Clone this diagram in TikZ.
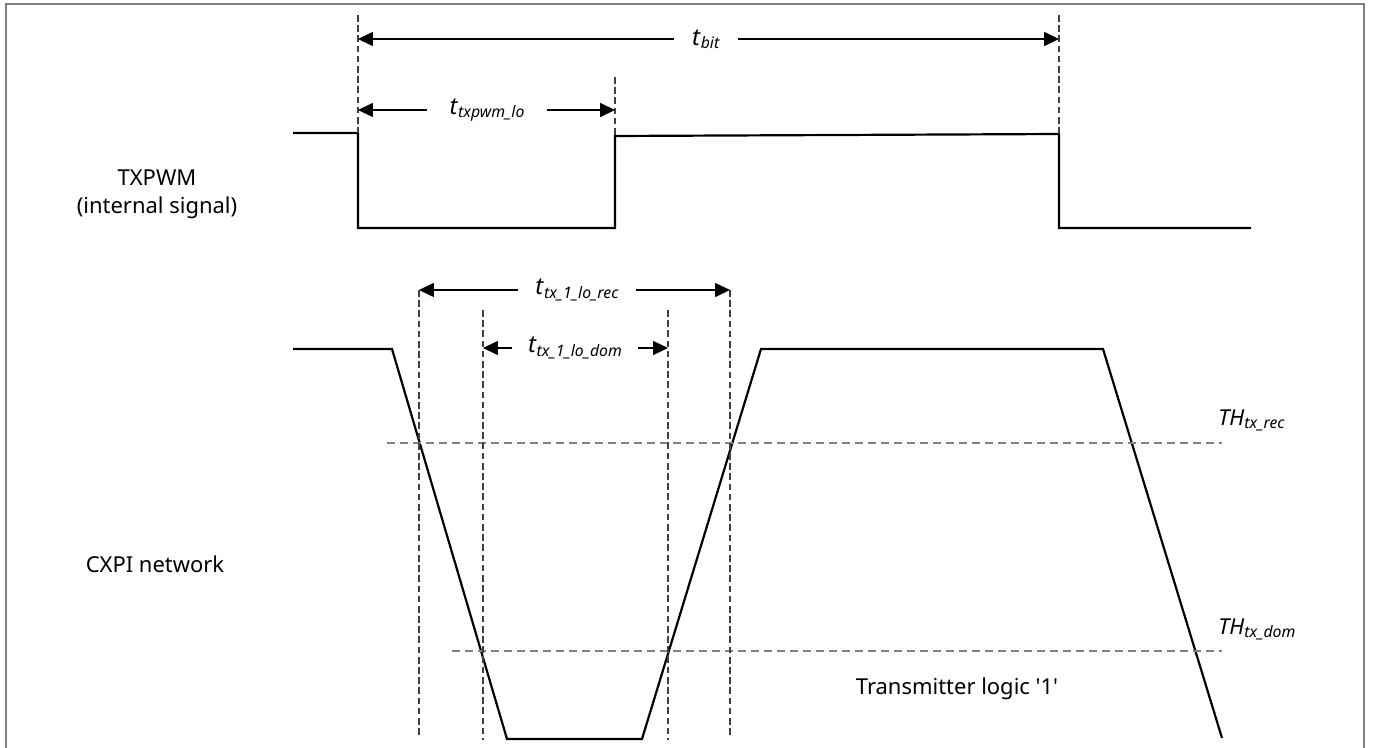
\documentclass[tikz,border=0pt]{standalone}
\usepackage{fontspec}
\setmainfont{Noto Sans}[Ligatures=TeXOff]
\usetikzlibrary{arrows.meta}

\newcommand{\tsub}[2]{\textit{#1}\raisebox{-0.25ex}{\fontsize{9}{10}\selectfont\textit{#2}}}

\begin{document}
\begin{tikzpicture}[x=0.02cm,y=-0.02cm,
    wave/.style={line width=1.25pt,line join=miter},
    guide/.style={black!75,line width=0.6pt,dash pattern=on 3.8pt off 2pt},
    thresh/.style={black!50,line width=1pt,dash pattern=on 4.6pt off 2.8pt},
    dimarrow/.style={-{Triangle[length=8.5pt,width=8pt]},line width=0.7pt},
    dimlabel/.style={inner sep=0pt,minimum height=14pt,font=\fontsize{13.5}{14}\selectfont},
    thlabel/.style={anchor=west,inner sep=0pt,font=\fontsize{12.5}{14}\selectfont},
    siglabel/.style={align=center,inner sep=0pt,font=\fontsize{12.5}{16}\selectfont}]
    \useasboundingbox (0,0) rectangle (1375,747);

    % Frame
    \draw[black!50,line width=1.1pt] (6,760) -- (6,4) -- (1364,4) -- (1364,760);

    % Signal names
    \node[siglabel] (txpwm) at (157,194) {TXPWM\\(internal signal)};
    \node[siglabel] (cxpi) at (155,564) {CXPI network};

    % TXPWM waveform
    \coordinate (p0) at (293,133);
    \coordinate (p1) at (358,133);
    \coordinate (p2) at (358,228);
    \coordinate (p3) at (615,228);
    \coordinate (p4) at (615,136);
    \coordinate (p5) at (1059,134);
    \coordinate (p6) at (1059,228);
    \coordinate (p7) at (1251,228);
    \draw[wave] (p0) -- (p1) -- (p2) -- (p3) -- (p4) -- (p5) -- (p6) -- (p7);

    % Guides for t_bit and t_txpwm_lo
    \coordinate (g1) at (358,15);
    \coordinate (g2) at (1059,15);
    \coordinate (g3) at (615,77);
    \draw[guide] (g1) -- (p1);
    \draw[guide] (g2) -- (p5);
    \draw[guide] (g3) -- (p4);

    % t_bit
    \coordinate (bitL) at (358,39);
    \coordinate (bitR) at (1059,39);
    \node[dimlabel,minimum width=1.26cm] (bit) at (706,39) {\tsub{t}{bit}};
    \draw[dimarrow] (bit) -- (bitL);
    \draw[dimarrow] (bit) -- (bitR);

    % t_txpwm_lo
    \coordinate (loL) at (358,110);
    \coordinate (loR) at (615,110);
    \node[dimlabel,minimum width=2.38cm] (txlo) at (487,110) {\tsub{t}{txpwm\_lo}};
    \draw[dimarrow] (txlo) -- (loL);
    \draw[dimarrow] (txlo) -- (loR);

    % CXPI waveform
    \coordinate (c0) at (293,349);
    \coordinate (c1) at (392,349);
    \coordinate (c2) at (507,739);
    \coordinate (c3) at (642,739);
    \coordinate (c4) at (761,349);
    \coordinate (c5) at (1103,349);
    \coordinate (c6) at (1222,738);
    \draw[wave] (c0) -- (c1) -- (c2) -- (c3) -- (c4) -- (c5) -- (c6);

    % Thresholds
    \coordinate (r0) at (387,443);
    \coordinate (r1) at (1222,443);
    \coordinate (d0) at (452,651);
    \coordinate (d1) at (1222,651);
    \draw[thresh] (r0) -- (r1);
    \draw[thresh] (d0) -- (d1);
    \node[thlabel] (threc) at (1218,420) {\tsub{TH}{tx\_rec}};
    \node[thlabel] (thdom) at (1218,629) {\tsub{TH}{tx\_dom}};

    % Guides for t_tx_1_lo_rec and t_tx_1_lo_dom
    \coordinate (recL) at (419,290);
    \coordinate (recR) at (730,290);
    \coordinate (domL) at (483,348);
    \coordinate (domR) at (668,348);
    \coordinate (v1) at (419,735);
    \coordinate (v2) at (730,735);
    \coordinate (v3t) at (483,310);
    \coordinate (v3) at (483,740);
    \coordinate (v4t) at (668,310);
    \coordinate (v4) at (668,740);
    \draw[guide] (recL) -- (v1);
    \draw[guide] (recR) -- (v2);
    \draw[guide] (v3t) -- (v3);
    \draw[guide] (v4t) -- (v4);

    % t_tx_1_lo_rec
    \node[dimlabel,minimum width=2.36cm] (rec) at (577,290) {\tsub{t}{tx\_1\_lo\_rec}};
    \draw[dimarrow] (rec) -- (recL);
    \draw[dimarrow] (rec) -- (recR);

    % t_tx_1_lo_dom
    \node[dimlabel,minimum width=2.5cm] (dom) at (575,348) {\tsub{t}{tx\_1\_lo\_dom}};
    \draw[dimarrow] (dom) -- (domL);
    \draw[dimarrow] (dom) -- (domR);

    \node[siglabel] (logic) at (957,689) {Transmitter logic '1'};
\end{tikzpicture}
\end{document}
